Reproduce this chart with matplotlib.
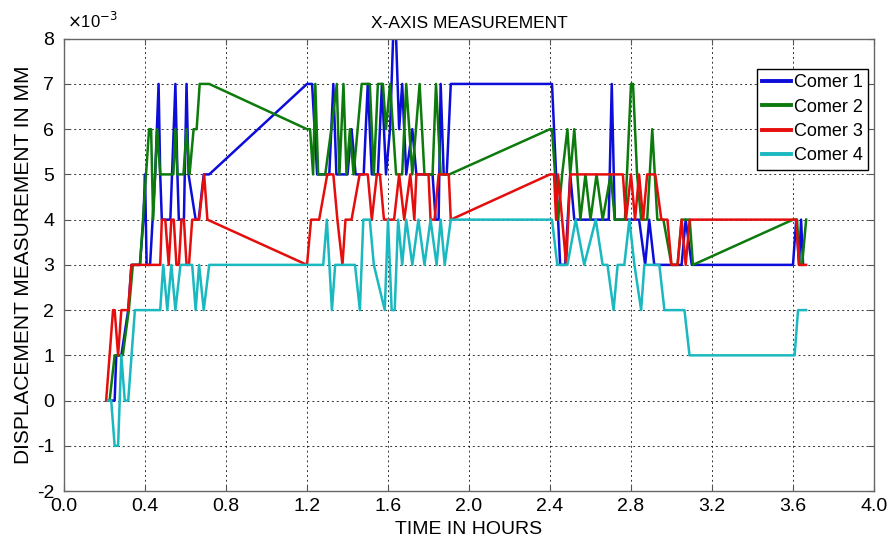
import matplotlib
matplotlib.use("Agg")
import matplotlib.pyplot as plt

plt.rcParams["font.family"] = ["Liberation Sans", "DejaVu Sans"]
plt.rcParams["axes.unicode_minus"] = False

# Waktu (jam) dan pergeseran (x 10^-3 mm) untuk tiap sudut
corner1_t = [0.217, 0.25, 0.258, 0.283, 0.317, 0.333, 0.375, 0.392, 0.4, 0.408, 0.425, 0.45, 0.467,
             0.475, 0.483, 0.525, 0.55, 0.56, 0.567, 0.592, 0.605, 0.615, 0.65, 0.665, 0.69, 0.717,
             1.2, 1.225, 1.25, 1.31, 1.33, 1.345, 1.4, 1.42, 1.44, 1.48, 1.5, 1.52, 1.55, 1.57, 1.59,
             1.61, 1.625, 1.64, 1.655, 1.67, 1.69, 1.72, 1.74, 1.82, 1.835, 1.85, 1.86, 1.875, 1.89,
             1.91, 2.4, 2.41, 2.43, 2.44, 2.45, 2.475, 2.5, 2.52, 2.535, 2.69, 2.705, 2.72, 2.84, 2.87,
             2.89, 2.915, 3.05, 3.07, 3.1, 3.6, 3.616, 3.63, 3.64, 3.65]
corner1_d = [0, 0, 1, 1, 2, 3, 3, 4, 5, 3, 3, 5, 7,
             5, 4, 4, 7, 5, 4, 4, 7, 5, 4, 4, 5, 5,
             7, 7, 5, 5, 7, 5, 5, 6, 5, 5, 7, 5, 5, 7, 5,
             6, 8, 8, 6, 7, 5, 6, 5, 5, 4, 4, 7, 5, 5,
             7, 7, 7, 5, 4, 3, 3, 5, 4, 4, 4, 7, 4, 4, 3,
             4, 3, 3, 4, 3, 3, 4, 3, 4, 3]

corner2_t = [0.225, 0.25, 0.29, 0.32, 0.34, 0.375, 0.39, 0.405, 0.42, 0.43, 0.44, 0.45, 0.46, 0.475,
             0.54, 0.55, 0.56, 0.59, 0.605, 0.62, 0.64, 0.655, 0.67, 0.717,
             1.2, 1.215, 1.23, 1.241, 1.255, 1.29, 1.32, 1.347, 1.36, 1.38, 1.395, 1.412, 1.43, 1.47,
             1.51, 1.53, 1.55, 1.575, 1.59, 1.61, 1.64, 1.67, 1.69, 1.72, 1.756, 1.78, 1.82, 1.837,
             1.86, 1.903, 2.4, 2.41, 2.425, 2.44, 2.46, 2.486, 2.5, 2.52, 2.535, 2.55, 2.575, 2.6,
             2.63, 2.66, 2.7, 2.72, 2.77, 2.8, 2.81, 2.83, 2.85, 2.88, 2.905, 2.93, 2.96, 3.0, 3.03,
             3.05, 3.09, 3.106, 3.6, 3.62, 3.633, 3.645, 3.665]
corner2_d = [0, 1, 1, 2, 3, 3, 4, 5, 6, 6, 4, 5, 6, 5,
             5, 6, 5, 5, 6, 5, 6, 6, 7, 7,
             6, 6, 5, 7, 5, 5, 6, 7, 5, 7, 5, 6, 5, 7,
             7, 5, 7, 7, 6, 7, 5, 5, 7, 5, 7, 5, 5, 7,
             5, 5, 6, 6, 5, 4, 5, 6, 5, 6, 5, 4, 5, 4,
             5, 4, 5, 4, 4, 7, 7, 5, 4, 4, 6, 4, 4, 3, 3,
             4, 4, 3, 4, 4, 3, 3, 4]

corner3_t = [0.208, 0.242, 0.25, 0.267, 0.283, 0.317, 0.333, 0.475, 0.483, 0.5, 0.517, 0.53, 0.542,
             0.555, 0.567, 0.58, 0.592, 0.605, 0.617, 0.633, 0.667, 0.692, 0.708,
             1.2, 1.22, 1.26, 1.3, 1.33, 1.35, 1.375, 1.39, 1.42, 1.46, 1.5, 1.52, 1.545, 1.56, 1.58,
             1.63, 1.655, 1.68, 1.71, 1.73, 1.74, 1.8, 1.81, 1.83, 1.85, 1.9, 1.91,
             2.4, 2.42, 2.43, 2.44, 2.46, 2.48, 2.49, 2.5, 2.76, 2.775, 2.8, 2.82, 2.84, 2.86, 2.88,
             2.92, 2.95, 2.98, 3.0, 3.03, 3.05, 3.07, 3.09, 3.616, 3.63, 3.665]
corner3_d = [0, 2, 2, 1, 2, 2, 3, 3, 4, 4, 3, 4, 4,
             3, 3, 4, 4, 3, 3, 4, 4, 5, 4,
             3, 4, 4, 5, 5, 4, 3, 4, 4, 5, 5, 4, 5, 5, 4,
             4, 5, 4, 5, 4, 5, 5, 4, 4, 5, 5, 4,
             5, 5, 4, 5, 4, 3, 4, 5, 5, 4, 5, 4, 5, 4, 5,
             5, 4, 4, 3, 3, 4, 3, 4, 4, 3, 3]

corner4_t = [0.217, 0.233, 0.25, 0.267, 0.283, 0.3, 0.317, 0.35, 0.475, 0.49, 0.51, 0.53, 0.55,
             0.575, 0.633, 0.65, 0.667, 0.69, 0.717,
             1.28, 1.298, 1.323, 1.339, 1.437, 1.461, 1.478, 1.51, 1.53, 1.584, 1.6, 1.618, 1.633,
             1.65, 1.67, 1.69, 1.72, 1.75, 1.78, 1.81, 1.84, 1.86, 1.88, 1.91,
             2.41, 2.436, 2.486, 2.527, 2.569, 2.626, 2.66, 2.684, 2.714, 2.734, 2.767, 2.792, 2.817,
             2.85, 2.866, 2.94, 2.965, 3.064, 3.089, 3.608, 3.625, 3.665]
corner4_d = [0, 0, -1, -1, 1, 0, 0, 2, 2, 3, 2, 3, 2,
             3, 3, 2, 3, 2, 3,
             3, 4, 2, 3, 3, 2, 4, 4, 3, 2, 4, 2, 2,
             4, 3, 4, 3, 4, 3, 4, 3, 4, 3, 4,
             4, 3, 3, 4, 3, 4, 3, 3, 2, 3, 3, 4, 3,
             2, 3, 3, 2, 2, 1, 1, 2, 2]

series = [
    ("Comer 1", corner1_t, corner1_d, (0.05, 0.05, 0.85)),
    ("Comer 2", corner2_t, corner2_d, (0.05, 0.48, 0.05)),
    ("Comer 3", corner3_t, corner3_d, (0.9, 0.05, 0.05)),
    ("Comer 4", corner4_t, corner4_d, (0.1, 0.72, 0.75)),
]

fig = plt.figure(figsize=(8.93, 5.45), dpi=100)
ax = fig.add_axes([0.0717, 0.099, 0.907, 0.830])

for label, t, d, c in series:
    ax.plot(t, d, color=c, linewidth=1.8, label=label)

ax.set_xlim(0, 4.0)
ax.set_ylim(-2, 8)
ax.set_xticks([i * 0.4 for i in range(11)])
ax.set_xticklabels([f"{i * 0.4:.1f}" for i in range(11)], fontsize=14)
ax.set_yticks(range(-2, 9))
ax.set_yticklabels([str(v) for v in range(-2, 9)], fontsize=14)

ax.grid(True, color="black", linestyle=(0, (2, 3)), linewidth=0.7, alpha=0.8)
ax.tick_params(direction="in", top=True, right=True, length=4, color="#555555")
ax.tick_params(axis="x", pad=5)
ax.tick_params(axis="y", pad=7)
for s in ax.spines.values():
    s.set_color("#666666")
    s.set_linewidth(1.0)

ax.set_title("X-AXIS MEASUREMENT", fontsize=12.5, pad=8)
ax.set_xlabel("TIME IN HOURS", fontsize=14, labelpad=4)
ax.set_ylabel("DISPLACEMENT MEASUREMENT IN MM", fontsize=15, labelpad=3)
ax.text(0.004, 1.018, r"$\times$10$^{-3}$", transform=ax.transAxes, fontsize=12,
        ha="left", va="bottom")

leg = ax.legend(loc="upper right", bbox_to_anchor=(0.993, 0.933), fontsize=13, frameon=True,
                fancybox=False, edgecolor="black", framealpha=1, handlelength=1.6,
                handletextpad=0.15, labelspacing=0.4, borderpad=0.3, borderaxespad=0)
for h in leg.get_lines():
    h.set_linewidth(2.8)

fig.savefig("out.png", dpi=100)
